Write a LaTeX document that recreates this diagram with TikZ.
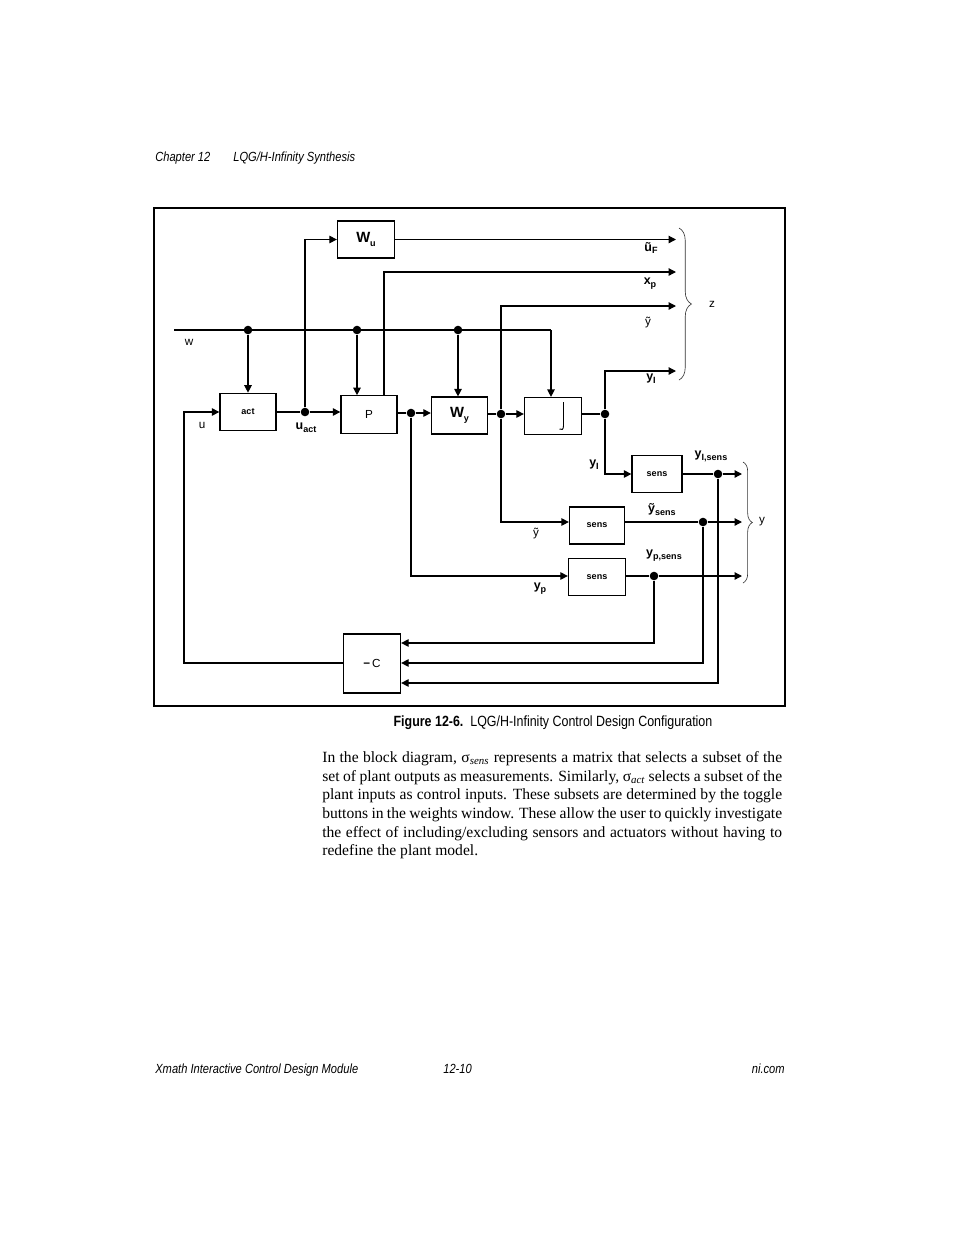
\documentclass[tikz,border=0pt]{standalone}
\usepackage{fontspec}
\setmainfont{Liberation Serif}
\setsansfont{Liberation Sans}
\newfontfamily\condfont[FakeStretch=0.84]{Liberation Sans}
\usetikzlibrary{arrows.meta,calc,positioning,decorations.pathreplacing}

\newcommand{\lbl}[2]{\textbf{#1\raisebox{-0.45ex}{\fontsize{5.8}{6}\selectfont #2}}}

\begin{document}
\begin{tikzpicture}[
  x=0.6415pt, y=-0.6415pt,
  block/.style={draw, line width=0.8pt, minimum width=36pt, minimum height=24pt, inner sep=0pt, font=\sffamily\fontsize{7.5}{8}\selectfont},
  wblock/.style={block, font=\sffamily\fontsize{9.5}{10}\selectfont},
  small/.style={block, font=\sffamily\bfseries\fontsize{5.8}{6}\selectfont},
  dot/.style={circle, fill, inner sep=0pt, minimum size=5.5pt},
  sig/.style={font=\sffamily\fontsize{8}{9}\selectfont, inner sep=1pt},
  plain/.style={font=\sffamily\fontsize{7.5}{8}\selectfont, inner sep=1pt},
  page/.style={font=\condfont\itshape\fontsize{8.5}{10}\selectfont, inner sep=0pt},
  wire/.style={line width=0.8pt},
  arrow/.style={-{Triangle[length=4.8pt,width=4.8pt]}, line width=0.8pt},
  brace/.style={decorate, decoration={brace, amplitude=#1}, line width=0.4pt, black!80}
]
  \useasboundingbox (0,0) rectangle (954,1235);

  \node[page, anchor=base west] (chap) at (155,161) {Chapter 12};
  \node[page, anchor=base west] (title) at (233,161) {LQG/H-Infinity Synthesis};

  \draw[line width=0.7pt] (154,208) rectangle (785,706);

  \node[wblock, minimum width=36.6pt, minimum height=23.7pt] (Wu) at (366,239.5) {\lbl{W}{u}};
  \node[small] (act) at (248,412) {act};
  \node[block] (P) at (369,414.5) {P};
  \node[wblock, minimum height=23.7pt] (Wy) at (459.5,415.5) {\lbl{W}{y}};
  \node[block, minimum width=36.6pt, minimum height=23.7pt] (J) at (553,416) {};
  \node[small, minimum width=32.1pt, minimum height=23.7pt] (sens1) at (657,474) {sens};
  \node[small, minimum width=35.3pt, minimum height=23.7pt] (sens2) at (597,525.5) {sens};
  \node[small, minimum width=36.6pt, minimum height=23.7pt] (sens3) at (597,577) {sens};
  \node[block, minimum width=36.6pt, minimum height=37.9pt] (C) at (372,663.5) {\textbf{−}\,C};

  \draw[line width=0.6pt] (563.5,402) -- (563.5,426) .. controls (563.5,429.5) and (561.5,430.5) .. (559.5,429);

  \coordinate (wstart) at (174,330);
  \coordinate (wcorner) at (551,330);
  \node[dot] (w1) at (248,330) {};
  \node[dot] (w2) at (357,330) {};
  \node[dot] (w3) at (458,330) {};
  \node[dot] (uact) at (305,412) {};
  \node[dot] (yp) at (411,413) {};
  \node[dot] (yt) at (501,414) {};
  \node[dot] (yi) at (605,414) {};
  \node[dot] (s1) at (718,474) {};
  \node[dot] (s2) at (703,522) {};
  \node[dot] (s3) at (654,576) {};
  \coordinate (xpbend) at (384,272);
  \coordinate (zuf) at (676,239.5);
  \coordinate (zxp) at (676,272);
  \coordinate (zyt) at (676,306);
  \coordinate (zyi) at (676,371);
  \coordinate (yis) at (742,474);
  \coordinate (yts) at (742,522);
  \coordinate (yps) at (742,576);
  \coordinate (fbp) at (654,643);
  \coordinate (fbt) at (703,663);
  \coordinate (fbi) at (718,683);
  \coordinate (ucorner) at (184,663);

  \draw[wire] (wstart) -- (wcorner);
  \draw[arrow] (wcorner) -- (wcorner |- J.north);
  \draw[arrow] (w1) -- (act);
  \draw[arrow] (w2) -- (w2 |- P.north);
  \draw[arrow] (w3) -- (w3 |- Wy.north);
  \draw[wire] (act) -- (uact);
  \draw[arrow] (uact) -- (uact -| P.west);
  \draw[arrow] (uact) |- (Wu);
  \draw[arrow] (Wu) -- (zuf);
  \draw[arrow] (xpbend |- P.north) -- (xpbend) -- (zxp);
  \draw[wire] (P.east |- yp) -- (yp);
  \draw[arrow] (yp) -- (yp -| Wy.west);
  \draw[wire] (Wy.east |- yt) -- (yt);
  \draw[arrow] (yt) -- (yt -| J.west);
  \draw[arrow] (yt) |- (zyt);
  \draw[wire] (J.east |- yi) -- (yi);
  \draw[arrow] (yi) |- (zyi);
  \draw[arrow] (yi) |- (sens1);
  \draw[arrow] (yt) |- (sens2.west |- s2);
  \draw[arrow] (yp) |- (sens3.west |- s3);
  \draw[wire] (sens1) -- (s1);
  \draw[arrow] (s1) -- (yis);
  \draw[wire] (sens2.east |- s2) -- (s2);
  \draw[arrow] (s2) -- (yts);
  \draw[wire] (sens3.east |- s3) -- (s3);
  \draw[arrow] (s3) -- (yps);
  \draw[arrow] (s3) -- (fbp) -- (fbp -| C.east);
  \draw[arrow] (s2) -- (fbt) -- (fbt -| C.east);
  \draw[arrow] (s1) -- (fbi) -- (fbi -| C.east);
  \draw[arrow] (C.west |- ucorner) -- (ucorner) |- (act);

  \draw[brace=8pt] (679,228) -- (679,380);
  \draw[brace=6pt] (743,462) -- (743,583);

  \node[plain] (lw) at (189,342) {w};
  \node[plain] (lu) at (202,425) {u};
  \node[sig] (luact) at (306,428) {\lbl{u}{act}};
  \node[sig] (luf) at (651,248) {\lbl{ũ}{F}};
  \node[sig] (lxp) at (650,284) {\lbl{x}{p}};
  \node[plain] (lyt) at (648,323) {ỹ};
  \node[sig] (lyi) at (651,379) {\lbl{y}{I}};
  \node[plain] (lz) at (712,304) {z};
  \node[sig] (lyi2) at (594,465) {\lbl{y}{I}};
  \node[sig] (lyis) at (711,456) {\lbl{y}{I,sens}};
  \node[sig] (lyts) at (662,510) {\lbl{ỹ}{sens}};
  \node[plain] (lyt2) at (536,534) {ỹ};
  \node[sig] (lyps) at (664,556) {\lbl{y}{p,sens}};
  \node[sig] (lyp) at (540,589) {\lbl{y}{p}};
  \node[plain] (ly) at (762,522) {y};

  \node[font=\condfont\fontsize{9.5}{11}\selectfont, inner sep=0pt, anchor=base] (caption) at (553,726)
    {\textbf{Figure 12-6.}\ \ LQG/H-Infinity Control Design Configuration};

  \node[font=\fontsize{10}{12}\selectfont, text width=295pt, align=justify, inner sep=0pt, anchor=north west] (para) at (322,751)
    {\hyphenpenalty=10000 In the block diagram, σ\textsubscript{\itshape sens} represents a matrix that selects a subset of the\linebreak
     set of plant outputs as measurements. Similarly, σ\textsubscript{\itshape act} selects a subset of the\linebreak
     plant inputs as control inputs. These subsets are determined by the toggle\linebreak
     buttons in the weights window. These allow the user to quickly investigate\linebreak
     the effect of including/excluding sensors and actuators without having to\linebreak
     redefine the plant model.};

  \node[page, anchor=base west] (module) at (155,1073) {Xmath Interactive Control Design Module};
  \node[page, anchor=base west] (pageno) at (443,1073) {12-10};
  \node[page, anchor=base east] (site) at (785,1073) {ni.com};
\end{tikzpicture}
\end{document}
